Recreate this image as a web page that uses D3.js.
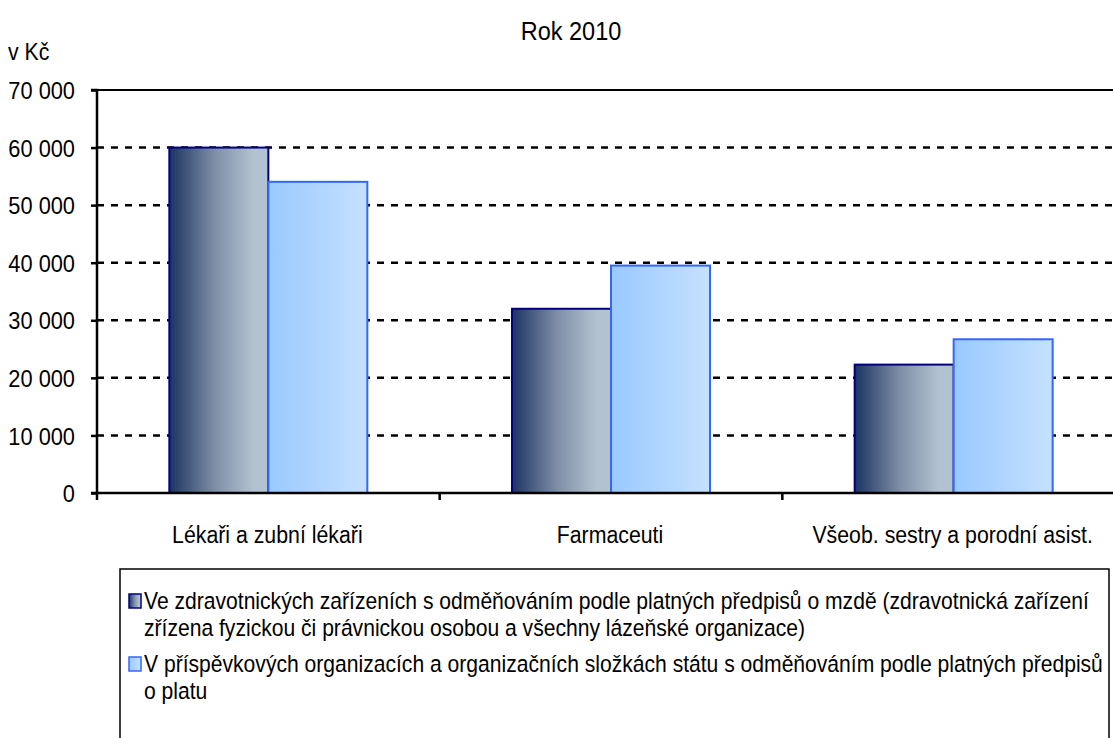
<!DOCTYPE html>
<html><head><meta charset="utf-8">
<script src="https://cdn.jsdelivr.net/npm/d3@7"></script>
<style>
html,body{margin:0;padding:0;background:#fff;}
svg text{font-family:"Liberation Sans",Arial,sans-serif;fill:#000;}
</style></head>
<body><svg id="c" width="1113" height="738"></svg>
<script>
const categories = ["Lékaři a zubní lékaři", "Farmaceuti", "Všeob. sestry a porodní asist."];
const seriesNames = [
  ["Ve zdravotnických zařízeních s odměňováním podle platných předpisů o mzdě (zdravotnická zařízení",
   "zřízena fyzickou či právnickou osobou a všechny lázeňské organizace)"],
  ["V příspěvkových organizacích a organizačních složkách státu s odměňováním podle platných předpisů",
   "o platu"]
];
const series1 = [60000, 32000, 22300];
const series2 = [54050, 39500, 26700];
const yTicks = [0, 10000, 20000, 30000, 40000, 50000, 60000, 70000];
const tickLabels = ["0", "10 000", "20 000", "30 000", "40 000", "50 000", "60 000", "70 000"];

const svg = d3.select("#c");
const pL = 97, pR = 1125, pT = 90, pB = 493;
const fs = 21.3;
const SY = 1.13;

function stretch(sel) {
  sel.each(function () {
    const t = d3.select(this);
    const x = +t.attr("x") || 0, yy = +t.attr("y") || 0;
    t.attr("x", 0).attr("y", 0).attr("transform", `translate(${x},${yy}) scale(1,${SY})`);
  });
}

const defs = svg.append("defs");
const g1 = defs.append("linearGradient").attr("id","g1").attr("x1","0").attr("x2","1").attr("y1","0").attr("y2","0");
g1.append("stop").attr("offset","0").attr("stop-color","#1b3461");
g1.append("stop").attr("offset","0.45").attr("stop-color","#7d8da6");
g1.append("stop").attr("offset","0.85").attr("stop-color","#b3c2d0");
g1.append("stop").attr("offset","1").attr("stop-color","#b3c2d0");
const g2 = defs.append("linearGradient").attr("id","g2").attr("x1","0").attr("x2","1").attr("y1","0").attr("y2","0");
g2.append("stop").attr("offset","0").attr("stop-color","#99c9ff");
g2.append("stop").attr("offset","1").attr("stop-color","#c6e1ff");

const x0 = d3.scaleBand().domain(categories).range([pL, pR]);
const y = d3.scaleLinear().domain([0, 70000]).range([pB, pT]);
const barW = 99;

// gridlines
svg.append("g").selectAll("line").data(yTicks.filter(d => d > 0 && d < 70000)).join("line")
  .attr("x1", pL).attr("x2", 1113).attr("y1", d => y(d)).attr("y2", d => y(d))
  .attr("stroke", "#000").attr("stroke-width", 2.5).attr("stroke-dasharray", "7,7");
svg.append("line").attr("x1", pL).attr("x2", 1113).attr("y1", y(70000)).attr("y2", y(70000))
  .attr("stroke", "#000").attr("stroke-width", 2);

// bars
const bars = svg.append("g");
categories.forEach((c, i) => {
  const cx = x0(c) + x0.bandwidth() / 2;
  bars.append("rect").attr("x", cx - barW).attr("y", y(series1[i])).attr("width", barW)
    .attr("height", y(0) - y(series1[i])).attr("fill", "url(#g1)").attr("stroke", "#000080").attr("stroke-width", 2);
  bars.append("rect").attr("x", cx).attr("y", y(series2[i])).attr("width", barW)
    .attr("height", y(0) - y(series2[i])).attr("fill", "url(#g2)").attr("stroke", "#3366ff").attr("stroke-width", 2);
});

// y axis
const yAxis = d3.axisLeft(y).tickValues(yTicks).tickSize(6).tickPadding(16)
  .tickFormat((d, i) => tickLabels[i]);
const ya = svg.append("g").attr("transform", `translate(${pL},0)`).call(yAxis);
ya.select(".domain").attr("stroke", "#000").attr("stroke-width", 2.5).attr("d", `M-6,${pT}H0V${pB}`);
ya.selectAll(".tick line").attr("stroke", "#000").attr("stroke-width", 2.5);
ya.selectAll(".tick text").attr("font-size", 21.8).attr("font-family", "Liberation Sans, Arial, sans-serif")
  .attr("fill", "#000").attr("dy", "0.35em").call(stretch);

// x axis
const xa = svg.append("g").attr("transform", `translate(0,${pB})`);
xa.append("line").attr("x1", pL - 6).attr("x2", 1113).attr("y1", 0).attr("y2", 0).attr("stroke", "#000").attr("stroke-width", 2.5);
xa.selectAll("line.t").data(categories).join("line").attr("class", "t")
  .attr("x1", d => x0(d)).attr("x2", d => x0(d)).attr("y1", 0).attr("y2", 7)
  .attr("stroke", "#000").attr("stroke-width", 2.5);
xa.selectAll("text").data(categories).join("text")
  .attr("x", d => x0(d) + x0.bandwidth() / 2 - 1).attr("y", 50)
  .attr("text-anchor", "middle").attr("font-size", fs).text(d => d).call(stretch);

// title + unit
svg.append("text").attr("x", 571).attr("y", 40).attr("text-anchor", "middle").attr("font-size", 23.5).text("Rok 2010").call(stretch);
svg.append("text").attr("x", 8).attr("y", 60).attr("font-size", fs).text("v Kč").call(stretch);

// legend
const lg = svg.append("g");
lg.append("rect").attr("x", 120).attr("y", 569).attr("width", 989).attr("height", 200)
  .attr("fill", "none").attr("stroke", "#000").attr("stroke-width", 1.5);
const lines0 = [609, 636], lines1 = [672, 699];
[[lines0, "url(#g1)", "#000080"], [lines1, "url(#g2)", "#3366ff"]].forEach(([ly, fill, stroke], i) => {
  lg.append("rect").attr("x", 129).attr("y", ly[0] - 15).attr("width", 12).attr("height", 14)
    .attr("fill", fill).attr("stroke", stroke).attr("stroke-width", 1.5);
  seriesNames[i].forEach((t, j) => {
    lg.append("text").attr("x", 144).attr("y", ly[j]).attr("font-size", 21.1).text(t).call(stretch);
  });
});
</script></body></html>
